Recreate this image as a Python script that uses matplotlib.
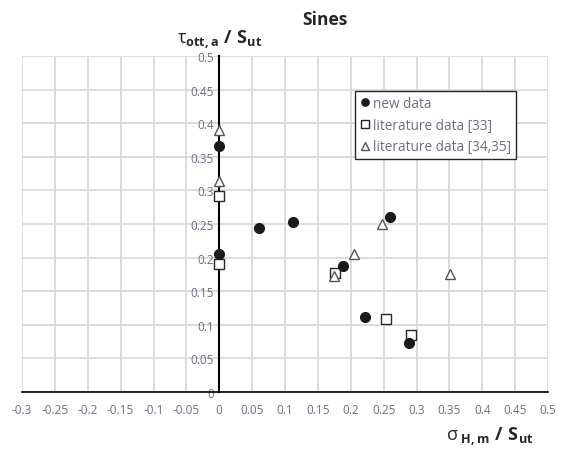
import matplotlib
matplotlib.use('Agg')
import matplotlib.pyplot as plt
import numpy as np

plt.rcParams['font.family'] = 'Open Sans'
plt.rcParams['mathtext.fontset'] = 'custom'
plt.rcParams['mathtext.rm'] = 'Open Sans'
plt.rcParams['mathtext.it'] = 'Open Sans'
plt.rcParams['mathtext.bf'] = 'Open Sans:bold'

# new data
new_x = [0.0, 0.0, 0.060, 0.112, 0.188, 0.259, 0.221, 0.288]
new_y = [0.366, 0.205, 0.244, 0.253, 0.188, 0.260, 0.112, 0.073]
# literature data [33]
lit33_x = [0.0, 0.0, 0.176, 0.254, 0.292]
lit33_y = [0.291, 0.190, 0.177, 0.108, 0.085]
# literature data [34,35]
lit34_x = [0.0, 0.0, 0.174, 0.205, 0.248, 0.351]
lit34_y = [0.390, 0.314, 0.173, 0.206, 0.250, 0.176]

xticks = np.round(np.arange(-0.3, 0.5001, 0.05), 2)
yticks = np.round(np.arange(0.0, 0.5001, 0.05), 2)

fig = plt.figure(figsize=(5.71, 4.52), dpi=100)
ax = fig.add_axes([22/571, 1-393/452, (548-22)/571, (393-57)/452])

ax.plot(new_x, new_y, 'o', color='#1a1a1a', ms=7, zorder=5, label='new data')
ax.plot(lit33_x, lit33_y, 's', mfc='white', mec='#262626', mew=1.0, ms=7, zorder=3,
        label='literature data [33]')
ax.plot(lit34_x, lit34_y, '^', mfc='white', mec='#555555', mew=1.0, ms=7, zorder=4,
        label='literature data [34,35]')

ax.set_xlim(-0.3, 0.5)
ax.set_ylim(0, 0.5)
ax.set_xticks(xticks)
ax.set_yticks(yticks)
ax.set_xticklabels(['0' if v == 0 else ('%g' % v) for v in xticks])
ax.set_yticklabels(['0' if v == 0 else ('%g' % v) for v in yticks])
ax.grid(True, color='#d9d9d9', lw=1.3)
ax.set_axisbelow(True)

for s in ['top', 'right']:
    ax.spines[s].set_visible(False)
ax.spines['left'].set_position(('data', 0))
ax.spines['bottom'].set_position(('data', 0))
ax.spines['left'].set_linewidth(1.5)
ax.spines['bottom'].set_linewidth(1.2)
ax.spines['left'].set_zorder(2)
ax.tick_params(length=0, labelsize=8.5, labelcolor='#6b7080', pad=4)
ax.tick_params(axis='x', pad=8)

leg = ax.legend(loc='upper left', bbox_to_anchor=(0.633, 0.896), fontsize=9.8,
                frameon=True, fancybox=False, edgecolor='#262626', framealpha=1,
                handletextpad=0.2, handlelength=0.8, borderpad=0.35, labelspacing=0.5,
                markerscale=0.75, borderaxespad=0)
for t in leg.get_texts():
    t.set_color('#6b7080')
leg.get_frame().set_linewidth(1.0)

fig.text(325/571, 1-20/452, 'Sines', fontsize=12.5, fontweight='bold', ha='center', va='center',
         color='#262626')
fig.text(220/571, 1-40/452, r'$\tau_{\mathbf{ott,a}}\ \mathbf{/\ S_{ut}}$', fontsize=13,
         ha='center', va='center', color='#262626')
fig.text(490/571, 1-437/452, r'$\sigma_{\ \mathbf{H,m}}\ \mathbf{/\ S_{ut}}$', fontsize=13,
         ha='center', va='center', color='#262626')

fig.savefig('out.png', dpi=100)
